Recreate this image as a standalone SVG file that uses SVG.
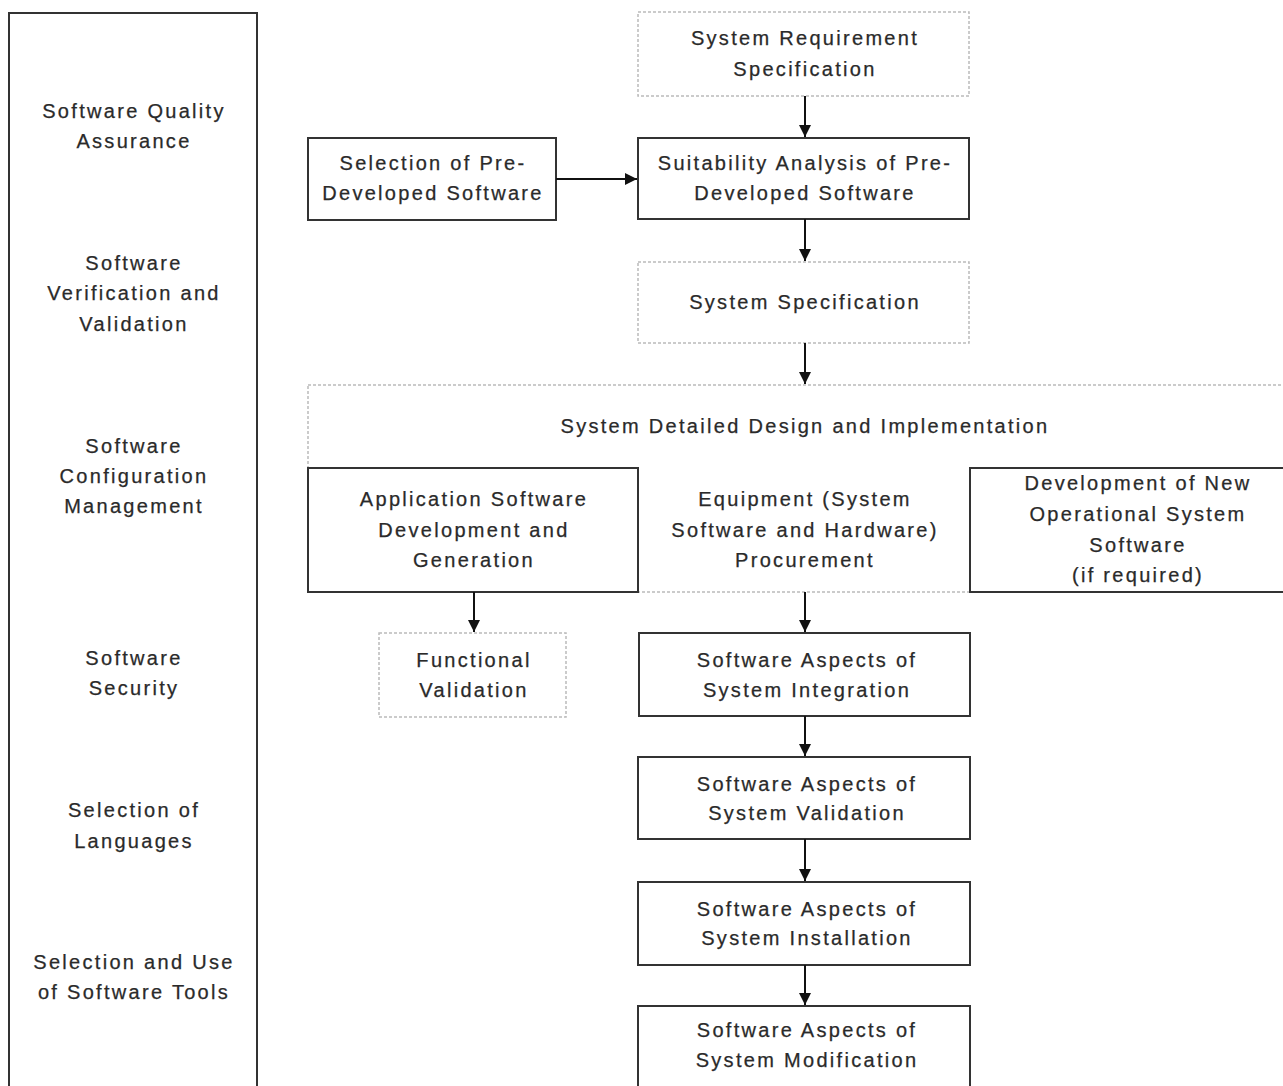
<svg xmlns="http://www.w3.org/2000/svg" width="1283" height="1086" viewBox="0 0 1283 1086">
<defs>
<style>
text{font-family:"Liberation Sans",Arial,sans-serif;font-size:20px;fill:#2a2a2a;text-anchor:middle;letter-spacing:2.3px;stroke:#2a2a2a;stroke-width:0.25}
.solid{fill:#fff;stroke:#333;stroke-width:2}
.dash{fill:#fff;stroke:#bbb;stroke-width:1.5;stroke-dasharray:3 2}
.conn{stroke:#111;stroke-width:2;fill:none;marker-end:url(#ah)}
</style>
<marker id="ah" viewBox="0 0 10 10" refX="10" refY="5" markerWidth="6" markerHeight="6" markerUnits="strokeWidth" orient="auto">
<path d="M0,0 L10,5 L0,10 z" fill="#111"/>
</marker>
</defs>
<rect width="1283" height="1086" fill="#fff"/>
<g id="side-panel">
<rect class="solid" x="9" y="13" width="248" height="1090"/>
<text x="134" y="118">Software Quality</text>
<text x="134" y="148">Assurance</text>
<text x="134" y="270">Software</text>
<text x="134" y="300">Verification and</text>
<text x="134" y="331">Validation</text>
<text x="134" y="453">Software</text>
<text x="134" y="483">Configuration</text>
<text x="134" y="513">Management</text>
<text x="134" y="665">Software</text>
<text x="134" y="695">Security</text>
<text x="134" y="817">Selection of</text>
<text x="134" y="848">Languages</text>
<text x="134" y="969">Selection and Use</text>
<text x="134" y="999">of Software Tools</text>
</g>
<g id="n-sysreq">
<rect class="dash" x="638" y="12" width="331" height="84"/>
<text x="805" y="45">System Requirement</text>
<text x="805" y="76">Specification</text>
</g>
<g id="n-selection">
<rect class="solid" x="308" y="138" width="248" height="82"/>
<text x="433" y="170">Selection of Pre-</text>
<text x="433" y="200">Developed Software</text>
</g>
<g id="n-suitability">
<rect class="solid" x="638" y="138" width="331" height="81"/>
<text x="805" y="170">Suitability Analysis of Pre-</text>
<text x="805" y="200">Developed Software</text>
</g>
<g id="n-sysspec">
<rect class="dash" x="638" y="262" width="331" height="81"/>
<text x="805" y="309">System Specification</text>
</g>
<g id="n-detailed">
<rect class="dash" x="308" y="385" width="990" height="207"/>
<text x="805" y="433">System Detailed Design and Implementation</text>
</g>
<g id="n-appsw">
<rect class="solid" x="308" y="468" width="330" height="124"/>
<text x="474" y="506">Application Software</text>
<text x="474" y="537">Development and</text>
<text x="474" y="567">Generation</text>
</g>
<g id="n-equip">
<text x="805" y="506">Equipment (System</text>
<text x="805" y="537">Software and Hardware)</text>
<text x="805" y="567">Procurement</text>
</g>
<g id="n-devnew">
<rect class="solid" x="970" y="468" width="330" height="124"/>
<text x="1138" y="490">Development of New</text>
<text x="1138" y="521">Operational System</text>
<text x="1138" y="552">Software</text>
<text x="1138" y="582">(if required)</text>
</g>
<g id="n-funcval">
<rect class="dash" x="379" y="633" width="187" height="84"/>
<text x="474" y="667">Functional</text>
<text x="474" y="697">Validation</text>
</g>
<g id="n-integ">
<rect class="solid" x="639" y="633" width="331" height="83"/>
<text x="807" y="667">Software Aspects of</text>
<text x="807" y="697">System Integration</text>
</g>
<g id="n-valid">
<rect class="solid" x="638" y="757" width="332" height="82"/>
<text x="807" y="791">Software Aspects of</text>
<text x="807" y="820">System Validation</text>
</g>
<g id="n-install">
<rect class="solid" x="638" y="882" width="332" height="83"/>
<text x="807" y="916">Software Aspects of</text>
<text x="807" y="945">System Installation</text>
</g>
<g id="n-modif">
<rect class="solid" x="638" y="1006" width="332" height="90"/>
<text x="807" y="1037">Software Aspects of</text>
<text x="807" y="1067">System Modification</text>
</g>
<g id="connectors">
<line class="conn" x1="805" y1="96" x2="805" y2="137"/>
<line class="conn" x1="556" y1="179" x2="637" y2="179"/>
<line class="conn" x1="805" y1="219" x2="805" y2="261"/>
<line class="conn" x1="805" y1="343" x2="805" y2="384"/>
<line class="conn" x1="474" y1="592" x2="474" y2="632"/>
<line class="conn" x1="805" y1="592" x2="805" y2="632"/>
<line class="conn" x1="805" y1="716" x2="805" y2="756"/>
<line class="conn" x1="805" y1="839" x2="805" y2="881"/>
<line class="conn" x1="805" y1="965" x2="805" y2="1005"/>
</g>
</svg>
